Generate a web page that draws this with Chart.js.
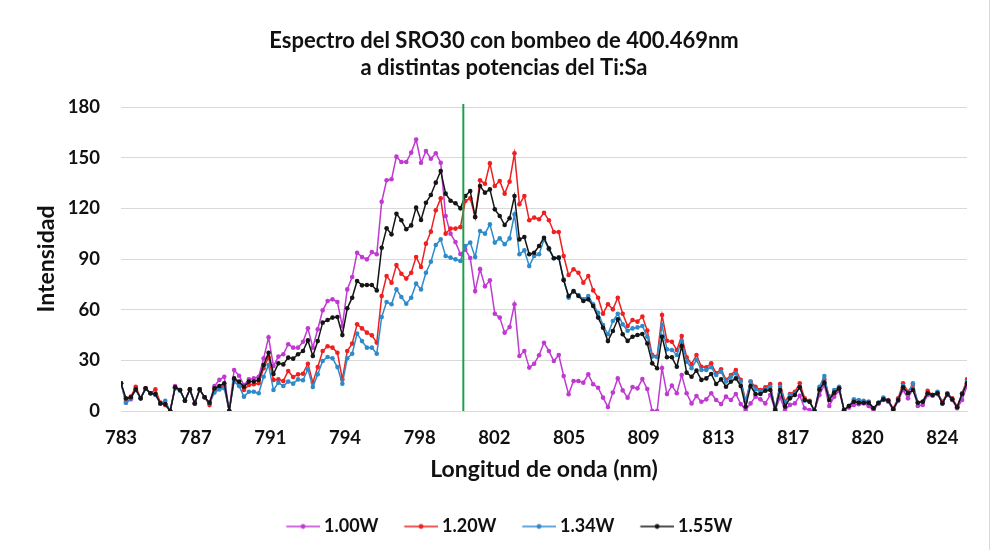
<!DOCTYPE html>
<html>
<head>
<meta charset="utf-8">
<script src="https://cdn.jsdelivr.net/npm/chart.js@4.4.0/dist/chart.umd.min.js"></script>
<style>
html,body{margin:0;padding:0;background:#fff;}
#wrap{width:993px;height:550px;position:relative;background:#fff;}
canvas{display:block;}
</style>
</head>
<body>
<div id="wrap"><canvas id="c" width="993" height="550"></canvas></div>
<script>
// ---- data ----
const titleLines = ['Espectro del SRO30 con bombeo de 400.469nm', 'a distintas potencias del Ti:Sa'];
const xTitle = 'Longitud de onda (nm)';
const yTitle = 'Intensidad';
const startNm = 783.1;        // wavelength of first sample
const stepNm = 0.2457;        // spacing between samples
const tickStartNm = 783.1;    // first labelled tick
const tickStepNm = 3.73;      // spacing between labelled ticks
const tickLabels = ['783','787','791','794','798','802','805','809','813','817','820','824'];
const pumpMarkerNm = 800.2;
const seriesNames = ['1.00W','1.20W','1.34W','1.55W'];

const p100 = [16.4,4.9,6.9,13.4,7.5,13.4,10.5,10,4.5,4.1,0,14.8,12.4,6.1,12.8,4.5,12.8,8.1,4.9,14.8,
18.4,20.3,0,24.3,20.9,15.4,18.7,19.3,20.3,31.2,43.6,26.6,32.2,33.6,39.5,37.5,37.5,41,49,37.5,
48.4,59.6,65.1,66.1,64.5,50.3,72,79.3,93.7,91.2,89.8,94.1,92.8,123.9,136.6,137.2,150.6,147.4,147.4,153,
160.8,147,153.9,149.4,152.6,147,115.5,105,100,93,95.5,90.6,71,84,73.8,77.4,57.6,55.3,46.4,49.7,
63.2,32.6,35.5,25.7,28,33,40.4,35.5,29.6,33.2,20.7,9.9,17.8,17.8,16.8,21.7,15.8,13.8,7.9,2.4,
10.9,19.3,12.2,7.9,14.2,13.4,18.9,13,0,0,25.5,10,15,10.5,21.3,10.5,4.5,8.9,5.5,6.9,
10.5,6.5,4.1,8.5,6.5,10.1,4.1,0.6,4.5,8.5,6.9,4.5,9.5,0.6,8,0.6,3.6,4.5,9,1.6,
0.6,0,9.5,15.4,3,8.5,12,0.6,2,3.6,4,4.5,3,0.2,4.5,6.5,5.5,0.2,6,12.4,
7.5,13,3,3.6,9.5,9,10,4.5,9.5,6.5,1.6,6.5,15];

const p120 = [16.4,6.5,8.5,14.4,7.5,13.4,10.5,12.8,5,3.5,0,14,12.4,6.1,12.8,4.5,12.8,8.1,3.5,12.4,
13.4,14.8,0,18.7,16.4,12.4,15.4,15.8,16.4,25.3,31.8,18.4,18.7,17.8,23.7,20.1,21.7,22.1,28,16.8,
26,35.5,38.3,37.5,34.5,18.7,35.5,39.9,51.3,48.9,46.4,44.8,40.5,68.1,79.9,76,86.4,81.3,78.4,81.9,
91.2,85.3,99.1,106.2,118.8,125.9,105,108,108,108.9,124.3,125.9,114.9,136.6,134.6,146.6,133.2,136.2,128.7,135.8,
152.6,122.4,127.3,112.9,114.5,113.5,117.4,112.9,106,106,91.8,80.5,83.9,81.9,76,79.9,71.4,67.1,57.6,63.2,
60.2,67.1,57.6,50.3,53.9,52.9,55.9,47.6,33.2,32.2,56.8,41.6,41,36.1,44.4,31.8,27.8,33.2,26.2,25.9,
28.2,22.3,24.7,18.4,21.3,24.3,18.4,6.1,17.4,14.4,12.4,14,16,0.6,16,5.5,10.1,11.4,16.4,7.5,
6,0,12.4,18.7,8.5,10.5,13.4,0.6,3,6.1,5.5,5.5,5.5,1.6,4.5,7.5,6.5,1.6,7.5,16.4,
11.4,15.4,4.9,5.5,12,9.5,10.9,5.5,10.5,7.5,2.6,10.5,18.7];

const p134 = [16.4,4.9,7.5,12.4,7.5,13,10.5,9.5,4.5,6.1,0,13.4,12,6.1,12.4,4.5,12.4,8.1,4.9,10.9,
12.8,13.4,0,17.4,14.8,8.5,11.4,11.4,10.5,20.3,27.2,12.4,16.8,14.8,17.4,16.2,18.7,18.2,24.7,14.2,
21.7,29.6,32,31.2,26,16.2,31.2,33.9,45.8,41.4,37.5,37.5,33.9,55.7,64.5,63.2,72,67.5,63.5,67.1,
75.4,72,81.9,88.4,98.3,101.6,91.8,90.8,89.8,88.8,97.7,99.7,91.2,106.6,105,110.5,99.7,102.2,98.7,102.2,
116.4,92.8,95.1,85.8,91.8,92.8,101.6,95.7,90.4,90.8,78,67.1,70.7,68.7,66.1,68.1,63.2,58.2,50.9,45.4,
53.3,57.6,51.3,47.5,48.9,49.5,50.3,44,32.2,31.8,50.9,36.5,36.1,33.2,41.6,29.2,25.3,30.2,24.3,24.3,
25.9,21.3,23.3,17.4,20.3,22.3,17.4,5.5,17.4,12.8,11.4,12.8,14.4,1.6,14.4,4.5,9.5,10.1,14.4,6.1,
5.5,0,14.4,20.7,7,12.4,14.4,0.6,3,6.9,6.5,6.1,5.5,1.6,4.9,8,6.1,1,6.5,15,
10.5,16.4,4.9,5.5,10.5,9.5,11.4,4.5,10,6.9,2.2,10,17.4];

const p155 = [16.4,7.5,8.1,12.8,7.5,13.4,10.5,10,4.5,4.1,0,14,12.4,6.1,12.8,4.5,12.8,8.1,4.9,13.4,
14.8,16.4,0,19.3,17.4,14.4,17.4,17.4,18.4,27.2,34.5,21.9,28.2,27.6,31.6,31,33.6,35.5,41.8,32.6,
41.4,52.3,53.9,55.3,55.7,45,60.8,67.1,77,74.4,74.6,74.6,71.4,96.7,108.2,104.6,116.8,112.9,107.6,109.9,
120.4,113.1,123.3,127.9,135.2,142.1,128.7,124.5,123,120,127.3,130.3,114.9,133.2,129.3,131.2,119.4,115.5,110.1,114.1,
127.3,101.6,103,92.8,93.7,97.7,102.6,96.3,90.4,90.8,77.4,68.1,71,68.1,65.1,66.1,62.2,55.3,49.3,41.4,
47.4,54.3,45.4,41.5,44,45,45.6,40,28.2,25.3,44,31.8,31.8,26.2,38.5,22.7,20.3,23.9,18.4,19.3,
21.9,16,18.7,14.4,17.4,19.3,14.8,2.6,14.8,10.1,10.1,12,12.4,0.6,12.4,2.6,7.5,9.5,14,6.5,
5.5,0,12.8,16.8,6.5,10.9,13.4,0.6,3,5.5,4.9,4.9,4.9,1.6,4.9,6.9,6.1,1,6.5,14,
10.5,12.4,4.9,5.5,10.5,9.5,10.5,4.5,10,6.9,2.2,10,16.4];

const seriesValues = [p100, p120, p134, p155];
const seriesColors = ['#c03ad2', '#ee2020', '#2e8bcb', '#151515'];

// wavelength of each sample
const wavelengths = p100.map((_, i) => +(startNm + i * stepNm).toFixed(4));

const FONT = 'Lato, "Open Sans", "DejaVu Sans", sans-serif';
const TXT = '#111111';

function legendIcon(color) {
  const c = document.createElement('canvas');
  c.width = 38; c.height = 8;
  const g = c.getContext('2d');
  g.strokeStyle = color; g.lineWidth = 1.5;
  g.beginPath(); g.moveTo(4.5, 4); g.lineTo(38, 4); g.stroke();
  g.fillStyle = color;
  g.beginPath(); g.arc(21.3, 4, 2.4, 0, Math.PI * 2); g.fill();
  return c;
}

const titlePlugin = {
  id: 'twoLineTitle',
  afterDraw(chart) {
    const ctx = chart.ctx;
    ctx.save();
    ctx.fillStyle = TXT;
    ctx.font = 'bold 22px ' + FONT;
    ctx.textAlign = 'center';
    ctx.textBaseline = 'middle';
    ctx.fillText(titleLines[0], 504, 41);
    ctx.fillText(titleLines[1], 504, 68);
    // chart frame edge on the right
    ctx.strokeStyle = '#d9d9d9';
    ctx.lineWidth = 1;
    ctx.beginPath();
    ctx.moveTo(989.5, 0);
    ctx.lineTo(989.5, 550);
    ctx.stroke();
    ctx.restore();
  }
};

const legendShift = {
  id: 'legendShift',
  afterLayout(chart) {
    if (chart.legend) { chart.legend.left += 16; chart.legend.right += 16; }
  }
};

const markerPlugin = {
  id: 'pumpMarker',
  afterDatasetsDraw(chart) {
    const x = chart.scales.x.getPixelForValue(pumpMarkerNm);
    const ctx = chart.ctx;
    ctx.save();
    ctx.strokeStyle = '#1f9e50';
    ctx.lineWidth = 2;
    ctx.beginPath();
    ctx.moveTo(x, chart.chartArea.top - 3);
    ctx.lineTo(x, chart.chartArea.bottom);
    ctx.stroke();
    ctx.restore();
  }
};

const datasets = seriesNames.map((name, k) => ({
  label: name,
  data: seriesValues[k],
  borderColor: seriesColors[k],
  backgroundColor: seriesColors[k],
  pointBackgroundColor: seriesColors[k],
  pointBorderWidth: 0,
  pointRadius: 2.3,
  borderWidth: 1.5,
  tension: 0,
  fill: false,
  order: 4 - k
}));

new Chart(document.getElementById('c'), {
  type: 'line',
  data: { labels: wavelengths, datasets },
  options: {
    responsive: false,
    animation: false,
    devicePixelRatio: 1,
    layout: { padding: { top: 107, left: 20, right: 26, bottom: 4.5 } },
    plugins: {
      title: { display: false },
      tooltip: { enabled: false },
      legend: {
        position: 'bottom',
        labels: {
          usePointStyle: true,
          pointStyleWidth: 28.5,
          padding: 26,
          color: TXT,
          font: { family: FONT, size: 18, weight: 'bold' },
          generateLabels(chart) {
            return chart.data.datasets.map((ds, i) => ({
              text: ds.label,
              pointStyle: legendIcon(ds.borderColor),
              fillStyle: ds.borderColor,
              strokeStyle: ds.borderColor,
              lineWidth: 0,
              hidden: false,
              datasetIndex: i,
              fontColor: TXT
            }));
          }
        }
      }
    },
    scales: {
      x: {
        type: 'linear',
        min: wavelengths[0],
        max: wavelengths[wavelengths.length - 1],
        grid: { display: false, drawTicks: false },
        border: { display: true, color: '#d9d9d9' },
        afterBuildTicks(scale) {
          scale.ticks = tickLabels.map((_, k) => ({ value: tickStartNm + k * tickStepNm }));
        },
        ticks: {
          autoSkip: false,
          maxRotation: 0,
          padding: 16,
          color: TXT,
          font: { family: FONT, size: 18.5, weight: 'bold' },
          callback(val, idx) { return tickLabels[idx]; }
        },
        title: {
          display: true,
          text: xTitle,
          color: TXT,
          font: { family: FONT, size: 23, weight: 'bold' },
          padding: { top: 0, bottom: 7.7 }
        },
        afterFit(s) { s.height = 80.5; }
      },
      y: {
        min: 0,
        max: 180,
        grid: { color: '#d9d9d9', lineWidth: 1, drawTicks: false },
        border: { display: false },
        ticks: {
          stepSize: 30,
          padding: 21,
          color: TXT,
          font: { family: FONT, size: 18.5, weight: 'bold' }
        },
        title: {
          display: true,
          text: yTitle,
          color: TXT,
          font: { family: FONT, size: 23, weight: 'bold' },
          padding: { top: 13, bottom: 0 }
        },
        afterFit(s) { s.width = 101; }
      }
    }
  },
  plugins: [titlePlugin, markerPlugin, legendShift]
});
</script>
</body>
</html>
